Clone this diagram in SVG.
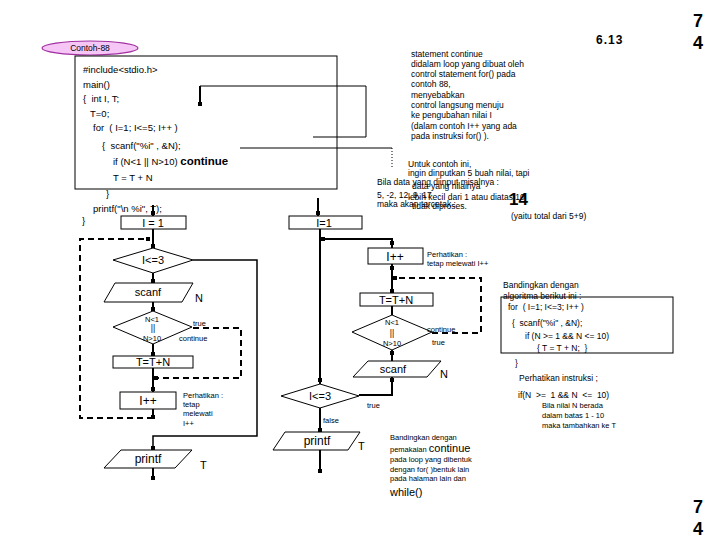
<svg xmlns="http://www.w3.org/2000/svg" xmlns:xlink="http://www.w3.org/1999/xlink" width="720" height="540" viewBox="0 0 720 540">
<style>
text{font-family:"Liberation Sans",Arial,sans-serif;fill:#000}
.code{font-size:9.5px}
.sm{font-size:8.5px}
.xs{font-size:7.5px}
.fc{font-size:11px}
.fl{font-size:12px}
.b{font-weight:bold}
.mid{text-anchor:middle}
.ln{stroke:#000;stroke-width:2;fill:none}
.ln15{stroke:#000;stroke-width:1.5;fill:none}
.thin{stroke:#000;stroke-width:1;fill:none}
.dash{stroke:#000;stroke-width:2;fill:none;stroke-dasharray:6 4}
.dot{stroke:#000;stroke-width:1;fill:none;stroke-dasharray:1 2}
.shape{fill:#fff;stroke:#000;stroke-width:1}
</style>
<defs>
<rect id="tip" x="-2" y="-2" width="4" height="4" fill="#000"/>
</defs>
<rect width="720" height="540" fill="#fff"/>

<!-- page numbers -->
<text x="596" y="44" class="b" font-size="12" letter-spacing="1">6.13</text>
<text x="693" y="27" class="b" font-size="18">7</text>
<text x="693" y="49" class="b" font-size="18">4</text>
<text x="693" y="513" class="b" font-size="18">7</text>
<text x="693" y="535" class="b" font-size="18">4</text>

<!-- title ellipse -->
<g id="title">
<ellipse cx="90" cy="48" rx="48" ry="7" fill="#f6c6f6" stroke="#a030a0" stroke-width="1.2"/>
<text x="90" y="51" class="sm mid">Contoh-88</text>
</g>

<!-- code box -->
<g id="code">
<rect x="75" y="56" width="262" height="133" class="shape"/>
<text x="83" y="72.5" class="code">#include&lt;stdio.h&gt;</text>
<text x="83" y="87.5" class="code">main()</text>
<text x="83" y="101.5" class="code" xml:space="preserve">{  int I, T;</text>
<text x="90" y="116.5" class="code">T=0;</text>
<text x="93" y="130.5" class="code" xml:space="preserve">for  ( I=1; I&lt;=5; I++ )</text>
<text x="102" y="148.5" class="code" xml:space="preserve">{  scanf("%i" , &amp;N);</text>
<text x="113" y="164.5" class="code">if (N&lt;1 || N&gt;10) <tspan class="b" font-size="11.5">continue</tspan></text>
<text x="113" y="180.5" class="code">T  =  T  +  N</text>
</g>
<text x="106" y="196.5" class="code">}</text>
<text x="93" y="211.5" class="code">printf("\n %i", T);</text>
<text x="82" y="224" class="code">}</text>

<!-- annotation statement continue -->
<g id="note1">
<text x="411" y="56.5" class="sm">statement continue</text>
<text x="411" y="66.8" class="sm">didalam loop yang dibuat oleh</text>
<text x="411" y="77.1" class="sm">control statement for() pada</text>
<text x="411" y="87.4" class="sm">contoh 88,</text>
<text x="411" y="97.7" class="sm">menyebabkan</text>
<text x="411" y="108" class="sm">control langsung menuju</text>
<text x="411" y="118.3" class="sm">ke pengubahan nilai I</text>
<text x="411" y="128.6" class="sm">(dalam contoh I++ yang ada</text>
<text x="411" y="138.9" class="sm">pada instruksi for() ).</text>
</g>

<g id="note2">
<text x="408" y="167" class="sm">Untuk contoh ini,</text>
<text x="408" y="176" class="sm">ingin dinputkan 5 buah nilai, tapi</text>
<text x="412" y="189" class="sm">data yang nilainya</text>
<text x="408" y="200" class="sm">lebih kecil dari 1 atau diatas 10</text>
<text x="412" y="209" class="sm">tidak diproses.</text>
</g>
<g id="note3">
<text x="377" y="185" class="sm">Bila data yang diinput misalnya :</text>
<text x="377" y="198" class="sm">5, -2, 12, 9, 17</text>
<text x="377" y="207" class="sm">maka akan tercetak :</text>
<text x="509" y="205" class="b" font-size="17">14</text>
<text x="511" y="219" class="sm">(yaitu total dari 5+9)</text>
</g>

<!-- left flowchart nodes -->
<g id="L_init"><rect x="121" y="216" width="65" height="13" class="shape"/><text x="153" y="226.5" class="fc mid">I = 1</text></g>
<g id="L_cond"><polygon points="113,260 153,248 193,260 153,273" class="shape"/><text x="153" y="264" class="fc mid">I&lt;=3</text></g>
<g id="L_scanf"><polygon points="115,283 193,283 182,302 104,302" class="shape"/><text x="148" y="296" class="fc mid">scanf</text><text x="195" y="302" class="fc">N</text></g>
<g id="L_test"><polygon points="113,327 153,311 192,327 153,344" class="shape"/>
<text x="152" y="322" class="xs mid">N&lt;1</text><text x="153" y="331" class="sm mid">||</text><text x="152" y="341" class="xs mid">N&gt;10</text></g>
<g id="L_sum"><rect x="113" y="356" width="80" height="12" class="shape"/><text x="153" y="366" class="fc mid">T=T+N</text></g>
<g id="L_inc"><rect x="120" y="392" width="56" height="17" class="shape"/><text x="148" y="405" class="fl mid">I++</text></g>
<g id="L_print"><polygon points="121,450 192,450 175,468 104,468" class="shape"/><text x="148" y="463" class="fl mid">printf</text><text x="200" y="469" class="fc">T</text></g>

<!-- right flowchart nodes -->
<g id="R_init"><rect x="289" y="216" width="73" height="13" class="shape"/><text x="324" y="226.5" class="fc mid">I=1</text></g>
<g id="R_inc"><rect x="368" y="248" width="55" height="16" class="shape"/><text x="395" y="260.5" class="fl mid">I++</text></g>
<g id="R_sum"><rect x="360" y="293" width="73" height="13" class="shape"/><text x="396" y="304" class="fc mid">T=T+N</text></g>
<g id="R_test"><polygon points="352,332 392,315 432,332 392,350" class="shape"/>
<text x="392" y="325" class="xs mid">N&lt;1</text><text x="392" y="336" class="sm mid">||</text><text x="392" y="346" class="xs mid">N&gt;10</text></g>
<g id="R_scanf"><polygon points="368,361 441,361 427,377 353,377" class="shape"/><text x="393" y="373" class="fc mid">scanf</text><text x="440" y="378" class="fc">N</text></g>
<g id="R_cond"><polygon points="281,396 320,384 359,396 320,408" class="shape"/><text x="320" y="400" class="fc mid">I&lt;=3</text></g>
<g id="R_print"><polygon points="285,432 360,432 348,450 273,450" class="shape"/><text x="317" y="445" class="fl mid">printf</text><text x="358" y="450" class="fc">T</text></g>

<!-- connectors -->
<g id="connectors">
<path d="M200,106 V86 H366 V137 H313" class="thin"/>
<path d="M200,86 V104" class="ln"/>
<path d="M240,148 H392" class="thin"/>
<path d="M392,148 V168" class="dot"/>
<path d="M153,205 V216" class="ln"/>
<path d="M153,229 V248" class="ln"/>
<path d="M153,273 V283" class="ln"/>
<path d="M153,302 V311" class="ln"/>
<path d="M153,344 V356" class="ln"/>
<path d="M153,368 V392" class="ln"/>
<path d="M153,409 V418" class="ln"/>
<path d="M193,260 H257 V436 H153 V450" class="ln15"/>
<path d="M153,468 V480" class="ln"/>
<path d="M153,418 H80 V239 H149" class="dash"/>
<path d="M193,328 H241 V378 H156" class="dash"/>
<path d="M318,198 V216" class="ln"/>
<path d="M320,229 V384" class="ln"/>
<path d="M392,248 V239 H320" class="ln"/>
<path d="M392,264 V293" class="ln"/>
<path d="M392,306 V315" class="ln"/>
<path d="M392,350 V361" class="ln"/>
<path d="M392,377 V395 H359" class="ln"/>
<path d="M320,408 V432" class="ln"/>
<path d="M320,450 V472" class="ln"/>
<path d="M432,333 H481 V278 H395" class="dash"/>
<use xlink:href="#tip" x="200" y="104"/>
<use xlink:href="#tip" x="153" y="213"/>
<use xlink:href="#tip" x="153" y="246"/>
<use xlink:href="#tip" x="148" y="239"/>
<use xlink:href="#tip" x="153" y="281"/>
<use xlink:href="#tip" x="153" y="309"/>
<use xlink:href="#tip" x="153" y="354"/>
<use xlink:href="#tip" x="156" y="378"/>
<use xlink:href="#tip" x="153" y="389"/>
<use xlink:href="#tip" x="153" y="417"/>
<use xlink:href="#tip" x="153" y="448"/>
<use xlink:href="#tip" x="153" y="478"/>
<use xlink:href="#tip" x="318" y="213"/>
<use xlink:href="#tip" x="323" y="239"/>
<use xlink:href="#tip" x="392" y="243"/>
<use xlink:href="#tip" x="392" y="268"/>
<use xlink:href="#tip" x="395" y="278"/>
<use xlink:href="#tip" x="392" y="291"/>
<use xlink:href="#tip" x="392" y="353"/>
<use xlink:href="#tip" x="392" y="380"/>
<use xlink:href="#tip" x="320" y="380"/>
<use xlink:href="#tip" x="320" y="430"/>
<use xlink:href="#tip" x="320" y="471"/>
</g>

<!-- flow labels -->
<text x="193" y="326" class="xs">true</text>
<text x="179" y="341" class="xs">continue</text>
<text x="427" y="332" class="xs">continue</text>
<text x="432" y="345" class="xs">true</text>
<text x="367" y="408" class="xs">true</text>
<text x="323" y="423" class="xs">false</text>
<text x="183" y="398" class="xs">Perhatikan :</text>
<text x="183" y="407" class="xs">tetap</text>
<text x="183" y="416" class="xs">melewati</text>
<text x="183" y="426" class="xs">I++</text>
<text x="427" y="257" class="xs">Perhatikan :</text>
<text x="427" y="266" class="xs">tetap melewati  I++</text>

<!-- bottom note -->
<g id="note4">
<text x="390" y="440" class="xs">Bandingkan dengan</text>
<text x="390" y="452" class="xs">pemakaian <tspan font-size="11">continue</tspan></text>
<text x="390" y="462" class="xs">pada loop yang dibentuk</text>
<text x="390" y="472" class="xs">dengan for( )bentuk lain</text>
<text x="390" y="481" class="xs">pada halaman lain dan</text>
<text x="390" y="496" font-size="11">while()</text>
</g>

<!-- right comparison -->
<g id="compare">
<text x="503" y="288" class="sm">Bandingkan dengan</text>
<text x="503" y="299" class="sm">algoritma berikut ini :</text>
<rect x="501" y="297" width="172" height="56" fill="none" stroke="#000" stroke-width="1"/>
<text x="508" y="310" class="sm" xml:space="preserve">for  ( I=1; I&lt;=3; I++ )</text>
<text x="512" y="326" class="sm" xml:space="preserve">{  scanf("%i" , &amp;N);</text>
<text x="525" y="339" class="sm" xml:space="preserve">if (N &gt;= 1 &amp;&amp; N &lt;= 10)</text>
<text x="537" y="351" class="sm" xml:space="preserve">{ T = T + N;  }</text>
<text x="515" y="366" class="sm">}</text>
<text x="519" y="381" class="sm">Perhatikan instruksi ;</text>
<text x="518" y="398" class="sm" xml:space="preserve">if(N  &gt;=  1 &amp;&amp; N  &lt;=  10)</text>
<text x="542" y="408" class="xs">Bila nilai N berada</text>
<text x="542" y="418" class="xs">dalam batas 1 - 10</text>
<text x="542" y="428" class="xs">maka tambahkan ke T</text>
</g>
</svg>
